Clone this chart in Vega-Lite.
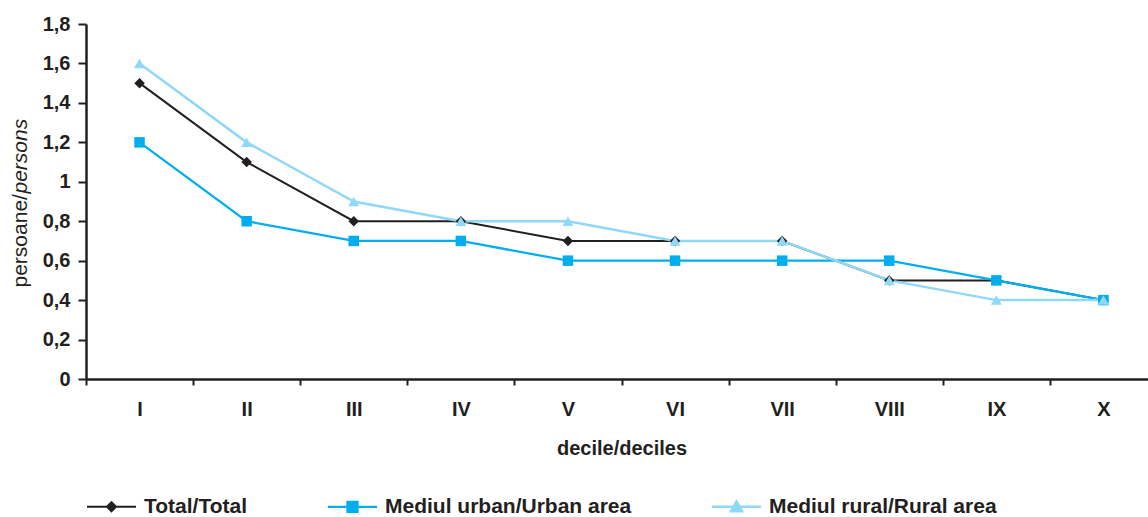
{
  "$schema": "https://vega.github.io/schema/vega-lite/v6.json",
  "autosize": {"type": "none"},
  "width": 1062,
  "height": 355,
  "padding": {"left": 86, "top": 24, "right": 0, "bottom": 138},
  "background": "white",
  "config": {
    "font": "Liberation Sans",
    "view": {"stroke": null},
    "axis": {"domainColor": "#231f20", "tickColor": "#231f20", "labelColor": "#231f20", "titleColor": "#231f20", "grid": false}
  },
  "data": {"values": [
    {"decile": "I", "series": "Total/Total", "value": 1.5},
    {"decile": "II", "series": "Total/Total", "value": 1.1},
    {"decile": "III", "series": "Total/Total", "value": 0.8},
    {"decile": "IV", "series": "Total/Total", "value": 0.8},
    {"decile": "V", "series": "Total/Total", "value": 0.7},
    {"decile": "VI", "series": "Total/Total", "value": 0.7},
    {"decile": "VII", "series": "Total/Total", "value": 0.7},
    {"decile": "VIII", "series": "Total/Total", "value": 0.5},
    {"decile": "IX", "series": "Total/Total", "value": 0.5},
    {"decile": "X", "series": "Total/Total", "value": 0.4},
    {"decile": "I", "series": "Mediul urban/Urban area", "value": 1.2},
    {"decile": "II", "series": "Mediul urban/Urban area", "value": 0.8},
    {"decile": "III", "series": "Mediul urban/Urban area", "value": 0.7},
    {"decile": "IV", "series": "Mediul urban/Urban area", "value": 0.7},
    {"decile": "V", "series": "Mediul urban/Urban area", "value": 0.6},
    {"decile": "VI", "series": "Mediul urban/Urban area", "value": 0.6},
    {"decile": "VII", "series": "Mediul urban/Urban area", "value": 0.6},
    {"decile": "VIII", "series": "Mediul urban/Urban area", "value": 0.6},
    {"decile": "IX", "series": "Mediul urban/Urban area", "value": 0.5},
    {"decile": "X", "series": "Mediul urban/Urban area", "value": 0.4},
    {"decile": "I", "series": "Mediul rural/Rural area", "value": 1.6},
    {"decile": "II", "series": "Mediul rural/Rural area", "value": 1.2},
    {"decile": "III", "series": "Mediul rural/Rural area", "value": 0.9},
    {"decile": "IV", "series": "Mediul rural/Rural area", "value": 0.8},
    {"decile": "V", "series": "Mediul rural/Rural area", "value": 0.8},
    {"decile": "VI", "series": "Mediul rural/Rural area", "value": 0.7},
    {"decile": "VII", "series": "Mediul rural/Rural area", "value": 0.7},
    {"decile": "VIII", "series": "Mediul rural/Rural area", "value": 0.5},
    {"decile": "IX", "series": "Mediul rural/Rural area", "value": 0.4},
    {"decile": "X", "series": "Mediul rural/Rural area", "value": 0.4}
  ]},
  "encoding": {
    "x": {
      "field": "decile", "type": "nominal",
      "sort": ["I", "II", "III", "IV", "V", "VI", "VII", "VIII", "IX", "X"],
      "scale": {"type": "band", "range": [0, 1071], "paddingInner": 0, "paddingOuter": 0},
      "axis": {
        "title": "decile/deciles", "labelAngle": 0, "tickBand": "extent",
        "domainWidth": 2.5, "tickWidth": 2, "tickSize": 6,
        "labelFontSize": 20, "labelFontWeight": "bold", "labelPadding": 14,
        "titleFontSize": 20, "titleFontWeight": "bold", "titlePadding": 19
      }
    },
    "color": {
      "field": "series", "type": "nominal",
      "scale": {"domain": ["Total/Total", "Mediul urban/Urban area", "Mediul rural/Rural area"], "range": ["#231f20", "#00aeef", "#8fd8f7"]},
      "legend": {
        "title": null, "orient": "none", "direction": "horizontal", "legendX": 15, "legendY": 472,
        "padding": 0, "columnPadding": 75, "labelOffset": 22, "symbolSize": 100, "labelLimit": 500,
        "labelFontSize": 21, "labelFontWeight": "bold", "labelColor": "#231f20",
        "symbolStrokeWidth": 2.5,
        "encode": {"symbols": {"update": {
          "shape": {"signal": "datum.value === 'Total/Total' ? 'M-4.9,0H4.9M0,-0.9L0.9,0L0,0.9L-0.9,0Z' : (datum.value === 'Mediul urban/Urban area' ? 'M-4.9,0H4.9M-1,-1H1V1H-1Z' : 'M-4.9,0H4.9M0,-1.05L1.1,0.9H-1.1Z')"},
          "fill": {"signal": "scale('color', datum.value)"},
          "stroke": {"signal": "scale('color', datum.value)"},
          "strokeWidth": {"value": 2.5},
          "opacity": {"value": 1}
        }}}
      }
    }
  },
  "layer": [
    {
      "mark": {"type": "line"},
      "encoding": {
        "y": {
          "field": "value", "type": "quantitative",
          "scale": {"domain": [0, 1.8], "nice": false},
          "axis": {
            "values": [0, 0.2, 0.4, 0.6, 0.8, 1, 1.2, 1.4, 1.6, 1.8],
            "labelExpr": "replace(format(datum.value, '.1~f'), '.', ',')",
            "domainWidth": 2.5, "tickWidth": 2, "tickSize": 8,
            "labelFontSize": 20, "labelFontWeight": "bold", "labelPadding": 8,
            "title": "persoane/", "titleFontSize": 21, "titleFontWeight": "normal",
            "titleAngle": 270, "titleAlign": "left", "titleBaseline": "alphabetic",
            "titleX": -60, "titleY": 263
          }
        },
        "strokeWidth": {
          "field": "series", "type": "nominal",
          "scale": {"domain": ["Total/Total", "Mediul urban/Urban area", "Mediul rural/Rural area"], "range": [2, 2.5, 2.5]},
          "legend": null
        }
      }
    },
    {
      "transform": [{"filter": "datum.series === 'Total/Total'"}],
      "mark": {"type": "point", "filled": true, "opacity": 1, "size": 110, "shape": "diamond"},
      "encoding": {
        "y": {
          "field": "value", "type": "quantitative",
          "axis": {
            "orient": "left", "labels": false, "ticks": false, "domain": false,
            "title": "persons", "titleFontSize": 21, "titleFontWeight": "normal", "titleFontStyle": "italic",
            "titleAngle": 270, "titleAlign": "left", "titleBaseline": "alphabetic",
            "titleX": -60, "titleY": 169
          }
        }
      }
    },
    {
      "transform": [{"filter": "datum.series === 'Mediul urban/Urban area'"}],
      "mark": {"type": "point", "filled": true, "opacity": 1, "size": 110, "shape": "square"},
      "encoding": {
        "y": {"field": "value", "type": "quantitative", "axis": null}
      }
    },
    {
      "transform": [{"filter": "datum.series === 'Mediul rural/Rural area'"}],
      "mark": {"type": "point", "filled": true, "opacity": 1, "size": 120, "shape": "triangle-up"},
      "encoding": {
        "y": {"field": "value", "type": "quantitative", "axis": null}
      }
    }
  ],
  "resolve": {"axis": {"y": "independent"}}
}
